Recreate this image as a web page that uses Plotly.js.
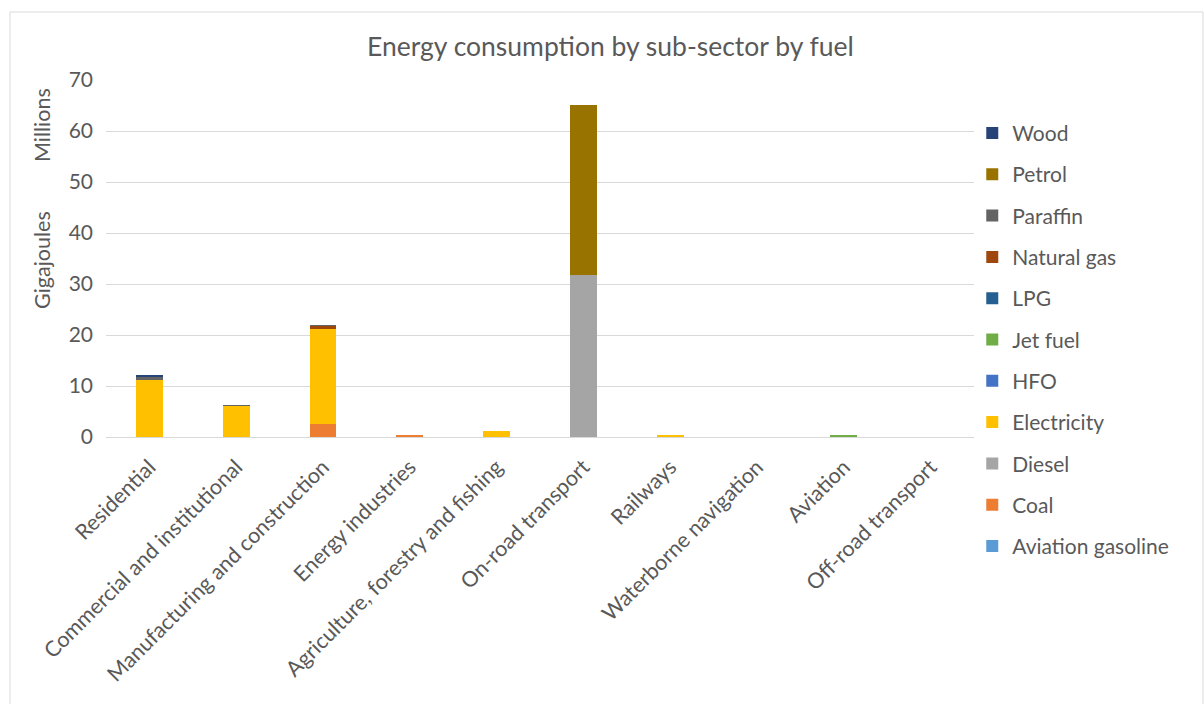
<!DOCTYPE html>
<html>
<head>
<meta charset="utf-8">
<script src="https://cdn.plot.ly/plotly-3.0.1.min.js"></script>
<style>body{margin:0;background:#fff}#chart{width:1204px;height:704px}</style>
</head>
<body>
<div id="chart"></div>
<script>
const categories = ["Residential","Commercial and institutional","Manufacturing and construction","Energy industries","Agriculture, forestry and fishing","On-road transport","Railways","Waterborne navigation","Aviation","Off-road transport"];

// values in millions of gigajoules, per sub-sector (same order as categories)
const aviationGasoline = [0,0,0,0,0,0,0,0,0.02,0];
const coal        = [0,0,2.6,0.3,0,0,0,0,0,0];
const diesel      = [0,0,0,0,0,31.8,0,0,0,0];
const electricity = [11.1,6.0,18.5,0,1.2,0,0.3,0,0,0];
const hfo         = [0,0,0,0,0,0,0,0,0,0];
const jetFuel     = [0,0,0,0,0,0,0,0,0.3,0];
const lpg         = [0,0.1,0,0,0,0,0,0,0,0];
const naturalGas  = [0,0,0.6,0,0,0,0,0,0,0];
const paraffin    = [0.7,0.1,0.2,0,0,0,0,0,0,0];
const petrol      = [0,0,0,0,0,33.3,0,0,0,0];
const wood        = [0.3,0,0,0,0,0,0,0,0,0];

const seriesNames = ["Aviation gasoline","Coal","Diesel","Electricity","HFO","Jet fuel","LPG","Natural gas","Paraffin","Petrol","Wood"];
const seriesValues = [aviationGasoline,coal,diesel,electricity,hfo,jetFuel,lpg,naturalGas,paraffin,petrol,wood];
const seriesColors = ["#5B9BD5","#ED7D31","#A5A5A5","#FFC000","#4472C4","#70AD47","#255E91","#9E480E","#636363","#997300","#264478"];

const yTicks = [0,10,20,30,40,50,60,70];

const traces = seriesNames.map((n,i)=>({
  type:'bar', name:n, x:categories, y:seriesValues[i],
  marker:{color:seriesColors[i], line:{width:0}},
  legendgroup:n, legendrank:1000 - i, hoverinfo:'x+y+name'
}));

const font = {family:'Lato, "Open Sans", sans-serif', color:'#595959'};
const layout = {
  width:1204, height:704,
  margin:{l:106, r:230, t:80, b:267},
  paper_bgcolor:'#fff', plot_bgcolor:'#fff',
  barmode:'stack', bargap:0.69,
  font:Object.assign({size:21}, font),
  title:{text:'Energy consumption by sub-sector by fuel', xref:'container', x:0.507, y:0.933, yanchor:'middle',
         font:Object.assign({size:26.5}, font)},
  xaxis:{tickangle:-45, tickfont:Object.assign({size:21.5}, font), showgrid:false, zeroline:false,
         showline:true, linecolor:'#d9d9d9', linewidth:1, ticks:'', automargin:false, ticklabelstandoff:8},
  yaxis:{range:[0,70], tickvals:yTicks, ticktext:yTicks.map(String), showgrid:true, gridcolor:'#d9d9d9', gridwidth:1,
         zeroline:false, showline:false, tickfont:Object.assign({size:21}, font), ticks:'', ticklen:0, automargin:false,
         ticklabelstandoff:12},
  showlegend:true,
  legend:{x:0.998, xanchor:'left', y:0.908, yanchor:'top', traceorder:'grouped', tracegroupgap:11, maxheight:620,
          font:Object.assign({size:21}, font), itemwidth:30, bgcolor:'rgba(0,0,0,0)'},
  annotations:[
    {text:'Gigajoules', xref:'paper', yref:'paper', x:-0.0737, y:0.496, textangle:-90, showarrow:false,
     font:Object.assign({size:21.5}, font), xanchor:'center', yanchor:'middle'},
    {text:'Millions', xref:'paper', yref:'paper', x:-0.0737, y:0.874, textangle:-90, showarrow:false,
     font:Object.assign({size:21.5}, font), xanchor:'center', yanchor:'middle'}
  ],
  shapes:[
    {type:'rect', xref:'paper', yref:'paper', x0:(10-106)/868, x1:(1203-106)/868, y0:(437-710)/357, y1:(437-12)/357,
     line:{color:'#d9d9d9', width:1}, fillcolor:'rgba(0,0,0,0)', layer:'below'}
  ]
};
Plotly.newPlot('chart', traces, layout, {displayModeBar:false, staticPlot:true});
</script>
</body>
</html>
